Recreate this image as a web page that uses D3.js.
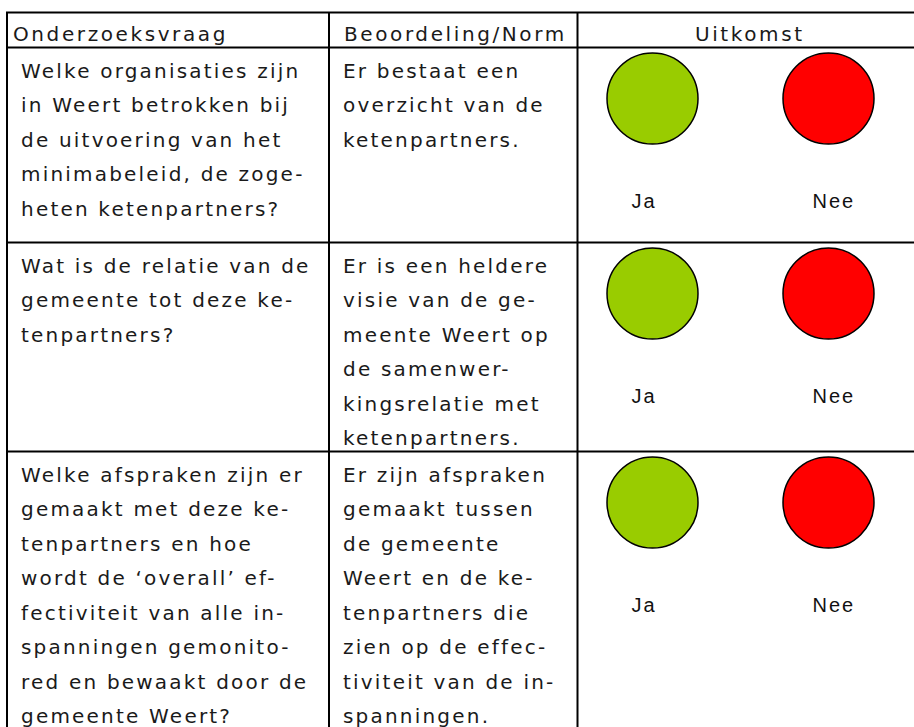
<!DOCTYPE html>
<html>
<head>
<meta charset="utf-8">
<script src="https://cdn.jsdelivr.net/npm/d3@7"></script>
<style>
  body { margin: 0; background: #fff; }
  svg { display: block; }
  .cell { font-family: "DejaVu Sans", Verdana, sans-serif; font-size: 20px; fill: #1a1a1a; letter-spacing: 2.2px; }
  .head { font-family: "DejaVu Sans", Verdana, sans-serif; font-size: 20px; fill: #1a1a1a; letter-spacing: 2.6px; }
  .lbl { font-family: "Liberation Sans", Arial, sans-serif; font-size: 20px; fill: #111; letter-spacing: 2px; }
</style>
</head>
<body>
<svg id="chart" width="914" height="727"></svg>
<script>
// column headers
var headers = ["Onderzoeksvraag", "Beoordeling/Norm", "Uitkomst"];

// research questions, one array of lines per row (hyphenation as in the source)
var questions = [
    ["Welke organisaties zijn", "in Weert betrokken bij", "de uitvoering van het", "minimabeleid, de zoge-", "heten ketenpartners?"],
    ["Wat is de relatie van de", "gemeente tot deze ke-", "tenpartners?"],
    ["Welke afspraken zijn er", "gemaakt met deze ke-", "tenpartners en hoe", "wordt de \u2018overall\u2019  ef-", "fectiviteit van alle in-", "spanningen gemonito-", "red en bewaakt door de", "gemeente Weert?"]
];

// norms
var norms = [
    ["Er bestaat een", "overzicht van de", "ketenpartners."],
    ["Er is een heldere", "visie van de ge-", "meente Weert op", "de samenwer-", "kingsrelatie met", "ketenpartners."],
    ["Er zijn afspraken", "gemaakt tussen", "de gemeente", "Weert en de ke-", "tenpartners die", "zien op de effec-", "tiviteit van de in-", "spanningen."]
];

// outcome options and their colours
var outcomes = ["Ja", "Nee"];
var outcomeColors = ["#99CC00", "#FF0000"];

var svg = d3.select("#chart"),
    width = 914,
    tableTop = 12.5,
    tableLeft = 7,
    headH = 35,
    lineH = 34.5,
    firstBase = 30,
    minRowH = 195;

// column edges
var colEdges = [tableLeft, 329, 577.5, 922];

// row heights from the number of text lines
var rows = questions.map(function (q, i) {
    var n = Math.max(q.length, norms[i].length);
    return { q: q, n: norms[i], h: Math.max(minRowH, firstBase + (n - 1) * lineH + 6.5) };
});
var y0 = tableTop + headH;
rows.forEach(function (r) { r.y = y0; y0 += r.h; });

// outcome circle positions inside the third column
var xOut = d3.scalePoint()
    .domain(outcomes)
    .range([652.5, 828.5]);
var color = d3.scaleOrdinal().domain(outcomes).range(outcomeColors);
// labels sit a little left of the circle centres
var labelDx = d3.scaleOrdinal().domain(outcomes).range([-21, -16]);

var grid = svg.append("g")
    .attr("stroke", "#000")
    .attr("stroke-width", 2);

// horizontal rules
var hLines = [tableTop, tableTop + headH].concat(rows.map(function (r) { return r.y + r.h; }));
grid.selectAll("line.h")
    .data(hLines)
    .enter().append("line")
    .attr("class", "h")
    .attr("x1", tableLeft - 1)
    .attr("x2", width)
    .attr("y1", function (d) { return d; })
    .attr("y2", function (d) { return d; });

// vertical rules
grid.selectAll("line.v")
    .data(colEdges.slice(0, 3))
    .enter().append("line")
    .attr("class", "v")
    .attr("x1", function (d) { return d; })
    .attr("x2", function (d) { return d; })
    .attr("y1", tableTop)
    .attr("y2", 740);

// header
var headX = [13, 344, (colEdges[2] + colEdges[3]) / 2];
svg.append("g").selectAll("text")
    .data(headers)
    .enter().append("text")
    .attr("class", "head")
    .attr("x", function (d, i) { return headX[i]; })
    .attr("y", tableTop + 28.5)
    .attr("text-anchor", function (d, i) { return i === 2 ? "middle" : "start"; })
    .text(function (d) { return d; });

// body rows
var row = svg.append("g").selectAll("g")
    .data(rows)
    .enter().append("g")
    .attr("transform", function (d) { return "translate(0," + d.y + ")"; });

[["q", 21], ["n", 343]].forEach(function (c) {
    row.append("text")
        .attr("class", "cell")
        .selectAll("tspan")
        .data(function (d) { return d[c[0]]; })
        .enter().append("tspan")
        .attr("x", c[1])
        .attr("y", function (d, i) { return firstBase + i * lineH; })
        .text(function (d) { return d; });
});

row.selectAll("circle")
    .data(outcomes)
    .enter().append("circle")
    .attr("cx", function (d) { return xOut(d); })
    .attr("cy", 51)
    .attr("r", 45.5)
    .attr("fill", function (d) { return color(d); })
    .attr("stroke", "#000")
    .attr("stroke-width", 1.5);

row.selectAll("text.lbl")
    .data(outcomes)
    .enter().append("text")
    .attr("class", "lbl")
    .attr("x", function (d) { return xOut(d) + labelDx(d); })
    .attr("y", 160)
    .text(function (d) { return d; });
</script>
</body>
</html>
